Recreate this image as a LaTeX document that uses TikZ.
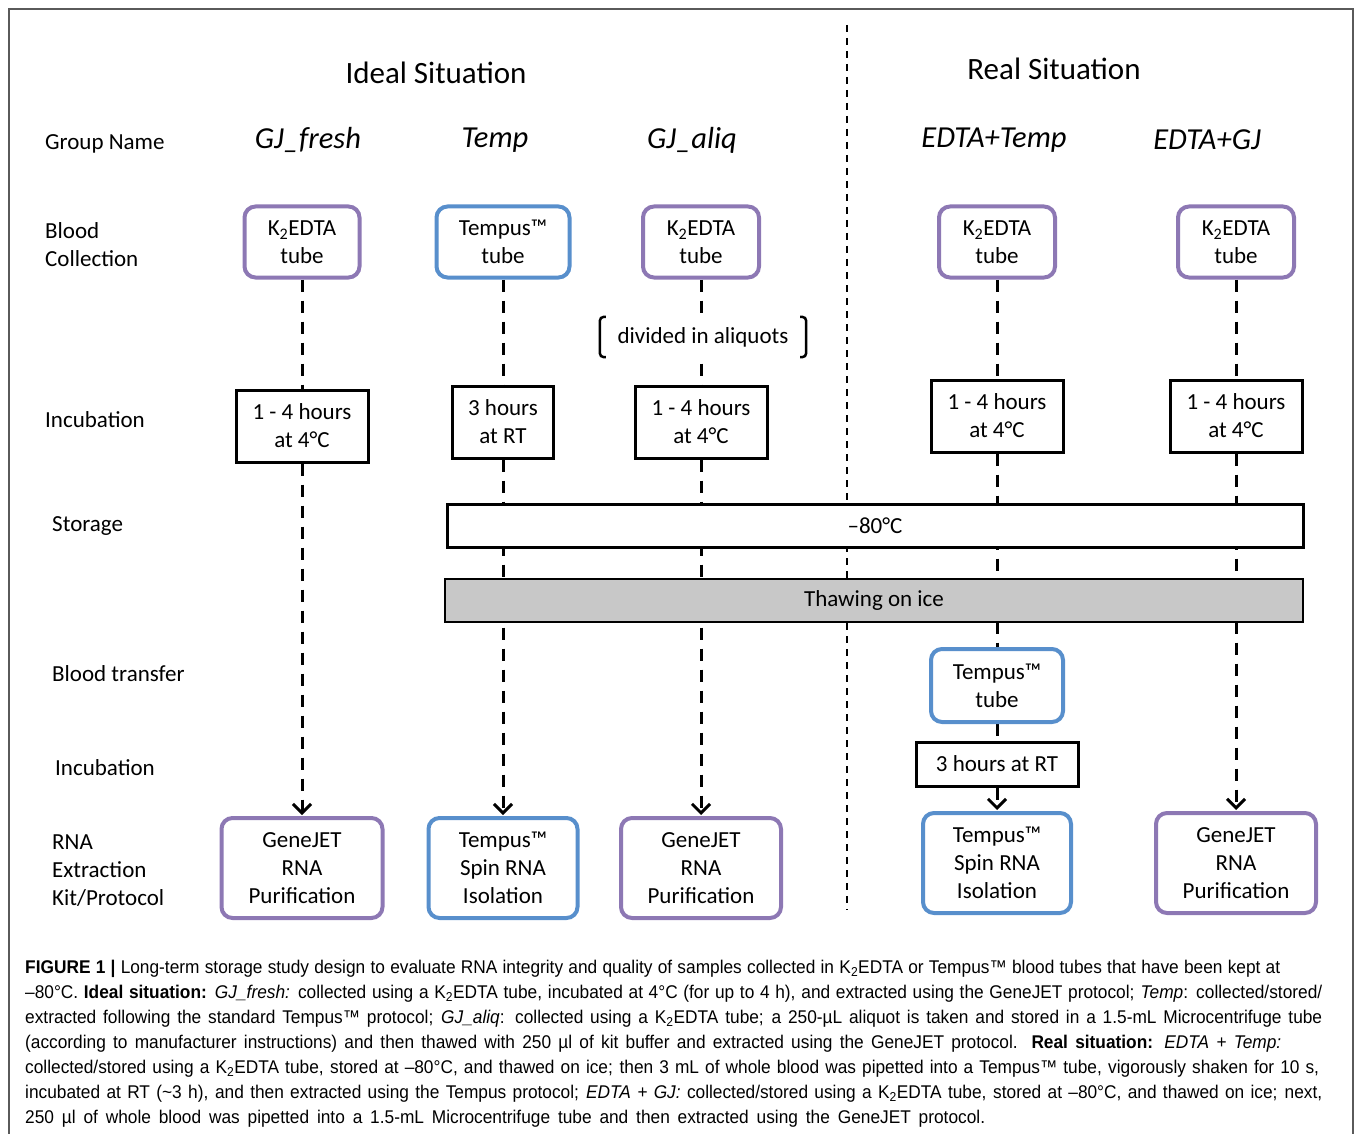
\documentclass[tikz,border=0pt]{standalone}
\usepackage{fontspec}
\setmainfont{Carlito}
\newfontfamily\capfamily[FakeStretch=0.94]{Liberation Sans}
\usepackage{tikz}
\usetikzlibrary{positioning,arrows.meta,backgrounds}

\definecolor{tubepurple}{RGB}{141,120,180}
\definecolor{tubeblue}{RGB}{88,143,204}
\definecolor{thawgray}{RGB}{200,200,200}
\definecolor{framegray}{RGB}{90,90,90}

\newcommand{\boxfont}{\fontsize{23}{28}\selectfont}
\newcommand{\titlefont}{\fontsize{31}{36}\selectfont}
\newcommand{\groupfont}{\fontsize{30.5}{36}\selectfont\itshape}
\newcommand{\capfont}{\capfamily\fontsize{18.4}{25}\selectfont}
\newcommand{\Ktwo}{K\textsubscript{2}}
\newcommand{\capline}[2]{\makebox[#1pt][s]{#2}}

\begin{document}
\begin{tikzpicture}[x=1pt, y=-1pt]
	\tikzset{
		tubebox/.style={rectangle, rounded corners=11pt, line width=4pt, fill=white, align=center, inner sep=0pt, font=\boxfont},
		purplebox/.style={tubebox, draw=tubepurple},
		bluebox/.style={tubebox, draw=tubeblue},
		incbox/.style={rectangle, draw=black, line width=3pt, fill=white, align=center, minimum width=132pt, minimum height=72pt, inner sep=0pt, font=\boxfont},
		barbox/.style={rectangle, draw=black, minimum height=43pt, inner sep=0pt, font=\boxfont},
		rowlabel/.style={anchor=west, align=left, inner sep=0pt, font=\boxfont},
		grouplabel/.style={font=\groupfont},
		flowline/.style={dash pattern=on 12pt off 9pt, line width=3pt},
		flowarrow/.style={flowline, shorten >=1pt, -{Straight Barb[length=9pt, width=18pt]}},
		divider/.style={dash pattern=on 7pt off 6pt, line width=1.3pt}
	}
	\useasboundingbox (0,0) rectangle (1355,1134);
	\draw[framegray, line width=1.2pt] (9,1134) -- (9,9) -- (1353,9) -- (1353,1134);

	% headings
	\node[font=\titlefont] (ideal) at (436,73) {Ideal Situation};
	\node[font=\titlefont] (real) at (1054,69) {Real Situation};
	\node[grouplabel] (gjfresh) at (308,140) {GJ\_fresh};
	\node[grouplabel] (temp) at (495,140) {Temp};
	\node[grouplabel] (gjaliq) at (692,140) {GJ\_aliq};
	\node[grouplabel] (edtatemp) at (994,140) {EDTA+Temp};
	\node[grouplabel] (edtagj) at (1207,140) {EDTA+GJ};

	% row labels
	\node[rowlabel] (rowgroup) at (45,144) {Group Name};
	\node[rowlabel] (rowblood) at (45,245) {Blood\\Collection};
	\node[rowlabel] (rowinc) at (45,420) {Incubation};
	\node[rowlabel] (rowstore) at (52,526) {Storage};
	\node[rowlabel] (rowtransfer) at (52,674) {Blood transfer};
	\node[rowlabel] (rowinctwo) at (55,768) {Incubation};
	\node[rowlabel] (rowkit) at (52,871) {RNA\\Extraction\\Kit/Protocol};

	% blood collection tubes
	\node[purplebox, minimum width=115pt, minimum height=71pt] (tube1) at (302,242) {\Ktwo EDTA\\tube};
	\node[bluebox, minimum width=133pt, minimum height=71pt] (tube2) at (503,242) {Tempus™\\tube};
	\node[purplebox, minimum width=116pt, minimum height=71pt] (tube3) at (701,242) {\Ktwo EDTA\\tube};
	\node[purplebox, minimum width=116pt, minimum height=71pt] (tube4) at (997,242) {\Ktwo EDTA\\tube};
	\node[purplebox, minimum width=116pt, minimum height=71pt] (tube5) at (1236,242) {\Ktwo EDTA\\tube};

	\node[font=\boxfont, fill=white, minimum width=206pt, minimum height=40pt, inner sep=0pt] (aliquots) at (703,337) {divided in aliquots};
	\draw[line width=2.5pt, rounded corners=4pt] ([xshift=6pt]aliquots.north west) -- (aliquots.north west) -- (aliquots.south west) -- ([xshift=6pt]aliquots.south west);
	\draw[line width=2.5pt, rounded corners=4pt] ([xshift=-6pt]aliquots.north east) -- (aliquots.north east) -- (aliquots.south east) -- ([xshift=-6pt]aliquots.south east);

	% incubation
	\node[incbox] (inc1) at (302,426) {1 - 4 hours\\at 4°C};
	\node[incbox, minimum width=101pt] (inc2) at (503,422) {3 hours\\at RT};
	\node[incbox] (inc3) at (701,422) {1 - 4 hours\\at 4°C};
	\node[incbox] (inc4) at (997,416) {1 - 4 hours\\at 4°C};
	\node[incbox] (inc5) at (1236,416) {1 - 4 hours\\at 4°C};

	% storage and thawing
	\node[barbox, line width=3pt, fill=white, minimum width=856pt] (storage) at (875,525.5) {–80°C};
	\node[barbox, line width=1.5pt, fill=thawgray, minimum width=858pt] (thawing) at (874,600.5) {Thawing on ice};

	% blood transfer
	\node[bluebox, minimum width=132pt, minimum height=73pt] (transfer) at (997,685.5) {Tempus™\\tube};
	\node[incbox, minimum width=162pt, minimum height=44pt] (incrt) at (997,764) {3 hours at RT};

	% extraction kits
	\node[purplebox, minimum width=161pt, minimum height=100pt] (kit1) at (302,868) {GeneJET\\RNA\\Purification};
	\node[bluebox, minimum width=149pt, minimum height=100pt] (kit2) at (503,868) {Tempus™\\Spin RNA\\Isolation};
	\node[purplebox, minimum width=160pt, minimum height=100pt] (kit3) at (701,868) {GeneJET\\RNA\\Purification};
	\node[bluebox, minimum width=148pt, minimum height=100pt] (kit4) at (997,863) {Tempus™\\Spin RNA\\Isolation};
	\node[purplebox, minimum width=160pt, minimum height=100pt] (kit5) at (1236,863) {GeneJET\\RNA\\Purification};

	\coordinate (divtop) at (847,25);
	\coordinate (divbottom) at (847,910);

	\begin{scope}[on background layer]
		\draw[divider] (divtop) -- (divbottom);
		\draw[flowline] (tube1) -- (inc1);
		\draw[flowarrow] (inc1) -- (kit1);
		\draw[flowline] (tube2) -- (inc2);
		\draw[flowarrow] (inc2) -- (kit2);
		\draw[flowline] (tube3) -- (inc3);
		\draw[flowarrow] (inc3) -- (kit3);
		\draw[flowline] (tube4) -- (inc4);
		\draw[flowline] (inc4) -- (transfer);
		\draw[flowline] (transfer) -- (incrt);
		\draw[flowarrow] (incrt) -- (kit4);
		\draw[flowline] (tube5) -- (inc5);
		\draw[flowarrow] (inc5) -- (kit5);
	\end{scope}

	% caption
	\node[anchor=north west, align=left, inner sep=0pt, font=\capfont] (caption) at (25,960) {%
		\capline{1255}{\textbf{FIGURE 1 |} Long-term storage study design to evaluate RNA integrity and quality of samples collected in \Ktwo EDTA or Tempus™ blood tubes that have been kept at}\\
		\capline{1297}{–80°C. \textbf{Ideal situation:} \textit{GJ\_fresh:} collected using a \Ktwo EDTA tube, incubated at 4°C (for up to 4 h), and extracted using the GeneJET protocol; \textit{Temp}: collected/stored/}\\
		\capline{1297}{extracted following the standard Tempus™ protocol; \textit{GJ\_aliq}: collected using a \Ktwo EDTA tube; a 250-µL aliquot is taken and stored in a 1.5-mL Microcentrifuge tube}\\
		\capline{1256}{(according to manufacturer instructions) and then thawed with 250 µl of kit buffer and extracted using the GeneJET protocol. \textbf{Real situation:} \textit{EDTA + Temp:}}\\
		\capline{1294}{collected/stored using a \Ktwo EDTA tube, stored at –80°C, and thawed on ice; then 3 mL of whole blood was pipetted into a Tempus™ tube, vigorously shaken for 10 s,}\\
		\capline{1297}{incubated at RT (\textasciitilde 3 h), and then extracted using the Tempus protocol; \textit{EDTA + GJ:} collected/stored using a \Ktwo EDTA tube, stored at –80°C, and thawed on ice; next,}\\
		\capline{960}{250 µl of whole blood was pipetted into a 1.5-mL Microcentrifuge tube and then extracted using the GeneJET protocol.}};
\end{tikzpicture}
\end{document}
